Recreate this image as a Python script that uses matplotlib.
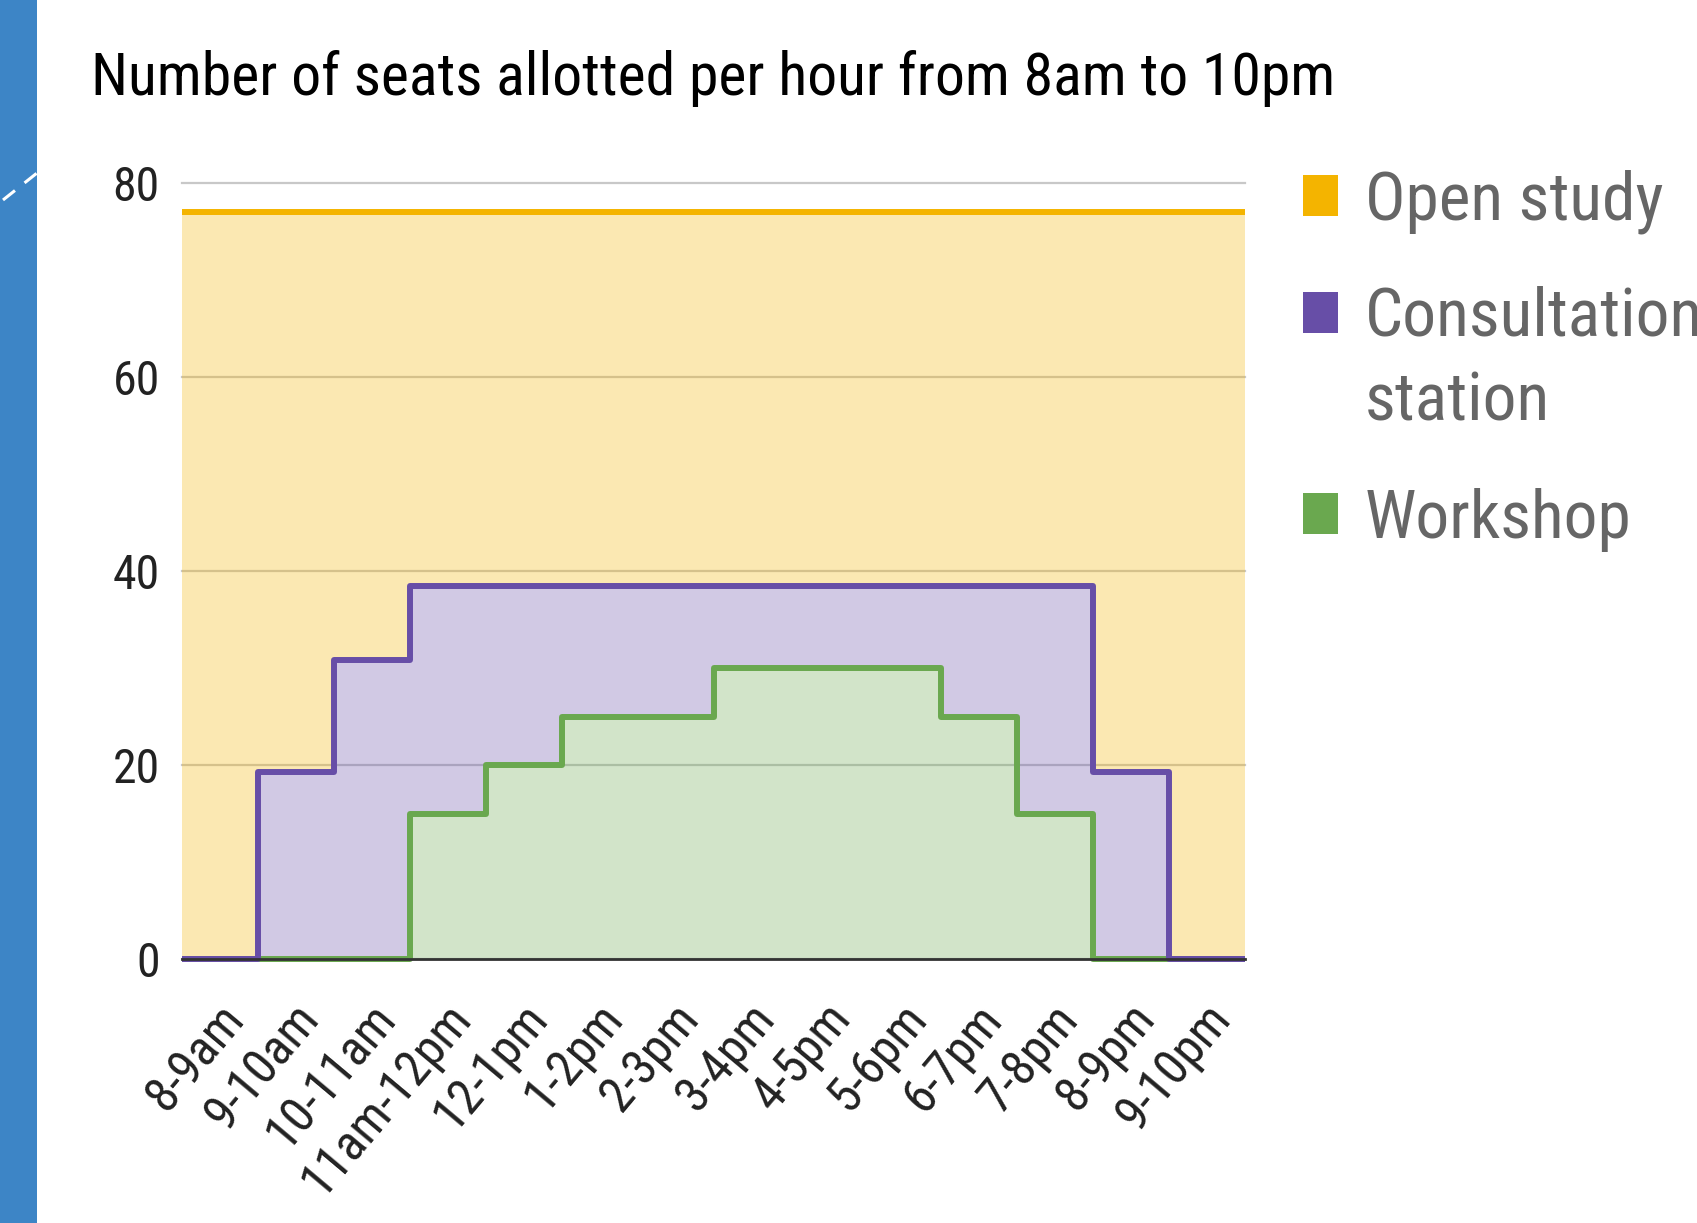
import matplotlib
matplotlib.use("Agg")
import matplotlib.pyplot as plt
import matplotlib.transforms as mtransforms
from matplotlib.patches import Rectangle
from matplotlib.lines import Line2D
import numpy as np

# data, one value per hour slot
hours = ["8-9am", "9-10am", "10-11am", "11am-12pm", "12-1pm", "1-2pm", "2-3pm",
         "3-4pm", "4-5pm", "5-6pm", "6-7pm", "7-8pm", "8-9pm", "9-10pm"]
open_study = [77, 77, 77, 77, 77, 77, 77, 77, 77, 77, 77, 77, 77, 77]
consultation = [0, 19.25, 30.8, 38.5, 38.5, 38.5, 38.5, 38.5, 38.5, 38.5, 38.5, 38.5, 19.25, 0]
workshop = [0, 0, 0, 15, 20, 25, 25, 30, 30, 30, 25, 15, 0, 0]

series_names = ["Open study", "Consultation\nstation", "Workshop"]
series_colors = ["#f4b400", "#674ea7", "#6aa84f"]
y_ticks = [0, 20, 40, 60, 80]

FONT = "Roboto Condensed"
W, H = 1697, 1223

fig = plt.figure(figsize=(W / 100, H / 100), dpi=100)

# slide background strip on the left
fig.add_artist(Rectangle((0, 0), 37 / W, 1, transform=fig.transFigure,
                         facecolor="#3d85c6", edgecolor="none"))
fig.add_artist(Line2D([3 / W, 37 / W], [1 - 200 / H, 1 - 173 / H], transform=fig.transFigure,
                      color="white", lw=2.2, linestyle=(0, (5, 4))))

ax = fig.add_axes([182 / W, 1 - 959 / H, (1245 - 182) / W, (959 - 183) / H])

x = np.arange(len(hours) + 1)
op = np.append(open_study, open_study[-1])
co = np.append(consultation, consultation[-1])
wo = np.append(workshop, workshop[-1])

# filled bands (each area only where it is visible)
ax.fill_between(x, co, op, step="post", color=series_colors[0], alpha=0.3, lw=0, zorder=2)
ax.fill_between(x, wo, co, step="post", color=series_colors[1], alpha=0.3, lw=0, zorder=2)
ax.fill_between(x, 0, wo, step="post", color=series_colors[2], alpha=0.3, lw=0, zorder=2)

line_kw = dict(where="post", lw=4.3, solid_joinstyle="round", solid_capstyle="butt", clip_on=False)
ax.step(x, op, color=series_colors[0], zorder=4, **line_kw)
ax.step(x, wo, color=series_colors[2], zorder=4, **line_kw)
ax.step(x, co, color=series_colors[1], zorder=5, **line_kw)
ax.axhline(0, color="#333333", lw=2.0, zorder=6, clip_on=False)

ax.set_xlim(0, len(hours))
ax.set_ylim(0, 80)
ax.set_yticks(y_ticks)
ax.set_yticklabels([str(v) for v in y_ticks], fontsize=34.5, color="#222222", family=FONT)
ax.yaxis.grid(True, color="#c8c8c8", lw=1.6)
for gl in ax.get_ygridlines():
    gl.set_clip_on(False)
ax.set_axisbelow(True)
for s in ax.spines.values():
    s.set_visible(False)
ax.tick_params(axis="y", length=0, pad=16)
ax.tick_params(axis="x", length=0, pad=0)

ax.set_xticks(x[:-1] + 0.5)
ax.set_xticklabels(hours, fontsize=36, color="#222222", family=FONT,
                   rotation=50, ha="right", va="baseline", rotation_mode="anchor")
offset = mtransforms.ScaledTranslation(0.25, -0.60, fig.dpi_scale_trans)
for lbl in ax.get_xticklabels():
    lbl.set_transform(lbl.get_transform() + offset)

# title
fig.text(91 / W, 1 - 95 / H, "Number of seats allotted per hour from 8am to 10pm",
         fontsize=43, family=FONT, color="#000000", ha="left", va="baseline")

# legend on the right (square rows, text baseline of the last line)
square_rows = [220, 337, 538]
text_rows = [220, 420, 538]
for name, color, sq, base in zip(series_names, series_colors, square_rows, text_rows):
    fig.add_artist(Rectangle((1303 / W, 1 - (sq - 4) / H), 35 / W, 41 / H,
                             transform=fig.transFigure, facecolor=color, edgecolor="none"))
    fig.text(1365 / W, 1 - base / H, name, fontsize=48.6, family=FONT, color="#666666",
             ha="left", va="baseline", linespacing=1.42)

fig.savefig("out.png", dpi=100)
